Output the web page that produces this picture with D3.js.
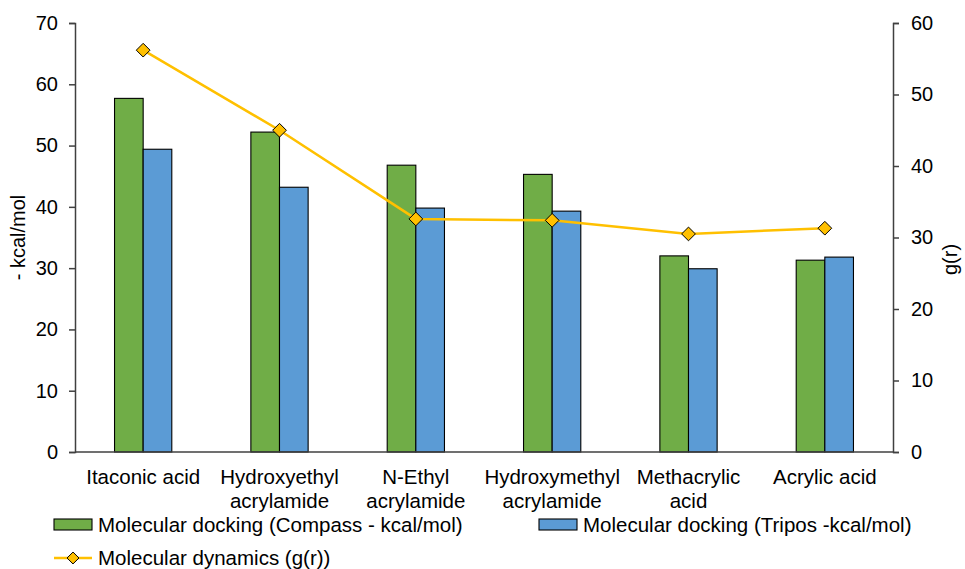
<script src='https://d3js.org/d3.v7.min.js'></script>
<style>
  body { margin: 0; background: #fff; }
  text { font-family: "Liberation Sans", Arial, sans-serif; fill: #000; }
</style>
<body>
<script>
// Data
const categories = [["Itaconic acid"], ["Hydroxyethyl", "acrylamide"], ["N-Ethyl", "acrylamide"],
                    ["Hydroxymethyl", "acrylamide"], ["Methacrylic", "acid"], ["Acrylic acid"]];
const compass = [57.7, 52.2, 46.8, 45.3, 32.0, 31.3];
const tripos  = [49.4, 43.2, 39.8, 39.3, 29.9, 31.8];
const gr      = [56.2, 45.0, 32.6, 32.4, 30.5, 31.3];
const leftTicks  = [0, 10, 20, 30, 40, 50, 60, 70];
const rightTicks = [0, 10, 20, 30, 40, 50, 60];
const seriesNames = ["Molecular docking (Compass - kcal/mol)", "Molecular docking (Tripos -kcal/mol)", "Molecular dynamics (g(r))"];

const W = 965, H = 569;
const mLeft = 75, mRight = 893, mTop = 23, mBottom = 452;
const green = "#70AD47", blue = "#5B9BD5", yellow = "#FFC000", axisCol = "#404040";
const fs = 20.5;

const svg = d3.select("body").append("svg").attr("width", W).attr("height", H);

const x = d3.scaleBand().domain(d3.range(categories.length)).range([mLeft, mRight]);
const yL = d3.scaleLinear().domain([0, 70]).range([mBottom, mTop]);
const yR = d3.scaleLinear().domain([0, 60]).range([mBottom, mTop]);
const bw = x.bandwidth() * 0.21;

// bars
const g = svg.append("g");
g.selectAll(".c").data(compass).join("rect")
  .attr("x", (d, i) => x(i) + x.bandwidth() / 2 - bw)
  .attr("y", d => yL(d)).attr("width", bw).attr("height", d => mBottom - yL(d))
  .attr("fill", green).attr("stroke", "#000").attr("stroke-width", 1.1);
g.selectAll(".t").data(tripos).join("rect")
  .attr("x", (d, i) => x(i) + x.bandwidth() / 2)
  .attr("y", d => yL(d)).attr("width", bw).attr("height", d => mBottom - yL(d))
  .attr("fill", blue).attr("stroke", "#000").attr("stroke-width", 1.1);

// axes
const axL = svg.append("g").attr("transform", `translate(${mLeft},0)`)
  .call(d3.axisLeft(yL).tickValues(leftTicks).tickSize(6).tickPadding(11));
const axR = svg.append("g").attr("transform", `translate(${mRight},0)`)
  .call(d3.axisRight(yR).tickValues(rightTicks).tickSize(6).tickPadding(12));
[axL, axR].forEach(a => {
  a.select(".domain").attr("stroke", axisCol).attr("stroke-width", 1.5);
  a.selectAll(".tick line").attr("stroke", axisCol).attr("stroke-width", 1.5);
  a.selectAll(".tick text").attr("font-size", 20).attr("font-family", "Liberation Sans, Arial, sans-serif").attr("fill", "#000");
});
svg.append("line").attr("x1", mLeft).attr("x2", mRight).attr("y1", mBottom).attr("y2", mBottom)
  .attr("stroke", axisCol).attr("stroke-width", 1.5);

// x labels
categories.forEach((lines, i) => {
  const t = svg.append("text").attr("text-anchor", "middle").attr("font-size", fs)
    .attr("x", x(i) + x.bandwidth() / 2).attr("y", 484);
  lines.forEach((l, j) => t.append("tspan").attr("x", x(i) + x.bandwidth() / 2).attr("dy", j ? 24 : 0).text(l));
});

// line
const cx = i => x(i) + x.bandwidth() / 2;
svg.append("path").datum(gr)
  .attr("fill", "none").attr("stroke", yellow).attr("stroke-width", 2.5)
  .attr("d", d3.line().x((d, i) => cx(i)).y(d => yR(d)));
const diamond = d3.symbol().type(d3.symbolDiamond2).size(120);
svg.selectAll(".m").data(gr).join("path")
  .attr("d", diamond).attr("transform", (d, i) => `translate(${cx(i)},${yR(d)})`)
  .attr("fill", yellow).attr("stroke", "#000").attr("stroke-width", 1);

// axis titles
svg.append("text").attr("transform", `translate(25,${(mTop + mBottom) / 2}) rotate(-90)`)
  .attr("text-anchor", "middle").attr("font-size", 20).text("- kcal/mol");
svg.append("text").attr("transform", `translate(957,${(mTop + mBottom) / 2 + 22}) rotate(-90)`)
  .attr("text-anchor", "middle").attr("font-size", 20).text("g(r)");

// legend
const leg = svg.append("g").attr("font-size", fs);
leg.append("rect").attr("x", 54).attr("y", 519).attr("width", 38).attr("height", 11)
  .attr("fill", green).attr("stroke", "#000").attr("stroke-width", 1.1);
leg.append("text").attr("x", 98).attr("y", 532).text(seriesNames[0]);
leg.append("rect").attr("x", 539).attr("y", 519).attr("width", 38).attr("height", 11)
  .attr("fill", blue).attr("stroke", "#000").attr("stroke-width", 1.1);
leg.append("text").attr("x", 583).attr("y", 532).text(seriesNames[1]);
leg.append("line").attr("x1", 54).attr("x2", 92).attr("y1", 558).attr("y2", 558)
  .attr("stroke", yellow).attr("stroke-width", 2.5);
leg.append("path").attr("d", d3.symbol().type(d3.symbolDiamond2).size(90))
  .attr("transform", "translate(73,558)").attr("fill", yellow).attr("stroke", "#000").attr("stroke-width", 1);
leg.append("text").attr("x", 98).attr("y", 565).text(seriesNames[2]);
</script>
</body>
